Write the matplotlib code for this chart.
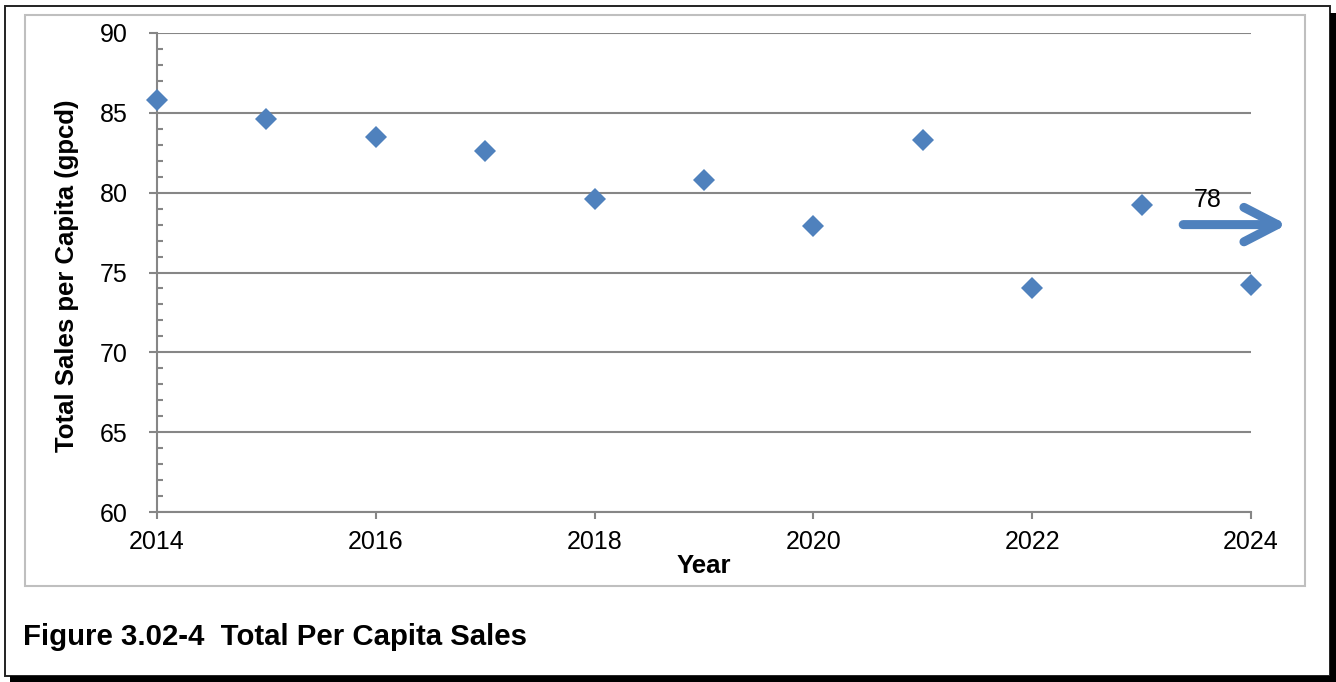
import matplotlib

matplotlib.use("Agg")
import matplotlib.pyplot as plt
from matplotlib.patches import Rectangle
from matplotlib.ticker import MultipleLocator

plt.rcParams["font.family"] = ["Liberation Sans", "DejaVu Sans"]

years = [2014, 2015, 2016, 2017, 2018, 2019, 2020, 2021, 2022, 2023, 2024]
sales_gpcd = [85.8, 84.6, 83.5, 82.6, 79.6, 80.8, 77.9, 83.3, 74.0, 79.2, 74.2]
target_gpcd = 78
target_x = (2023.38, 2024.33)

W, H = 1336, 682
BLUE = "#4F81BD"
GREY = "#868686"


def px(x, y):
    """Pixel position (from top-left) to figure fraction."""
    return x / W, 1 - y / H


fig = plt.figure(figsize=(W / 100, H / 100), dpi=100)

# page frame with drop shadow, then the chart-area border
fig.patches.append(Rectangle(px(5, 676), 1325 / W, 670 / H, transform=fig.transFigure,
                             fill=False, edgecolor="#222222", linewidth=1.4))
fig.patches.append(Rectangle(px(1330, 682), 6 / W, 669 / H, transform=fig.transFigure,
                             facecolor="black", edgecolor="none"))
fig.patches.append(Rectangle(px(10, 682), 1326 / W, 6 / H, transform=fig.transFigure,
                             facecolor="black", edgecolor="none"))
fig.patches.append(Rectangle(px(25, 586), 1280 / W, 571 / H, transform=fig.transFigure,
                             fill=False, edgecolor="#bfbfbf", linewidth=1.5))

left, top = px(157, 33)
right, bottom = px(1251, 512)
ax = fig.add_axes([left, bottom, right - left, top - bottom])

ax.plot(years, sales_gpcd, linestyle="none", marker="D", markersize=11,
        color=BLUE, markeredgewidth=0, clip_on=False, zorder=5)

ax.annotate("", xy=(target_x[1], target_gpcd), xytext=(target_x[0], target_gpcd),
            arrowprops=dict(arrowstyle="->,head_length=1.2,head_width=0.62",
                            mutation_scale=20, lw=6.5, color=BLUE,
                            shrinkA=0, shrinkB=0, joinstyle="round",
                            capstyle="round"),
            annotation_clip=False, zorder=6)
ax.text(2023.6, 79.55, f"{target_gpcd}", ha="center", va="center", fontsize=18)

ax.set_xlim(2014, 2024)
ax.set_ylim(60, 90)
ax.xaxis.set_major_locator(MultipleLocator(2))
ax.yaxis.set_major_locator(MultipleLocator(5))
ax.yaxis.set_minor_locator(MultipleLocator(1))
ax.grid(axis="y", color=GREY, linewidth=1.5)
ax.set_axisbelow(True)

for side in ("top", "right"):
    ax.spines[side].set_visible(False)
for side in ("left", "bottom"):
    ax.spines[side].set_color(GREY)
    ax.spines[side].set_linewidth(1.5)

ax.tick_params(axis="y", which="major", direction="out", length=6, width=1.5,
               color=GREY, pad=15, labelsize=18)
ax.tick_params(axis="y", which="minor", direction="in", length=4, width=1.5, color=GREY)
ax.tick_params(axis="x", which="major", direction="out", length=5, width=1.5,
               color=GREY, pad=8, labelsize=18)

ax.set_ylabel("Total Sales per Capita (gpcd)", fontsize=18.5, fontweight="bold")
ax.yaxis.set_label_coords(-0.071, 0.494)
ax.set_xlabel("Year", fontsize=18.5, fontweight="bold")
ax.xaxis.set_label_coords(0.5, -0.088)

cx, cy = px(23, 645)
fig.text(cx, cy, "Figure 3.02-4  Total Per Capita Sales", fontsize=21.2,
         fontweight="bold", va="baseline", ha="left")

fig.savefig("out.png", dpi=100)
